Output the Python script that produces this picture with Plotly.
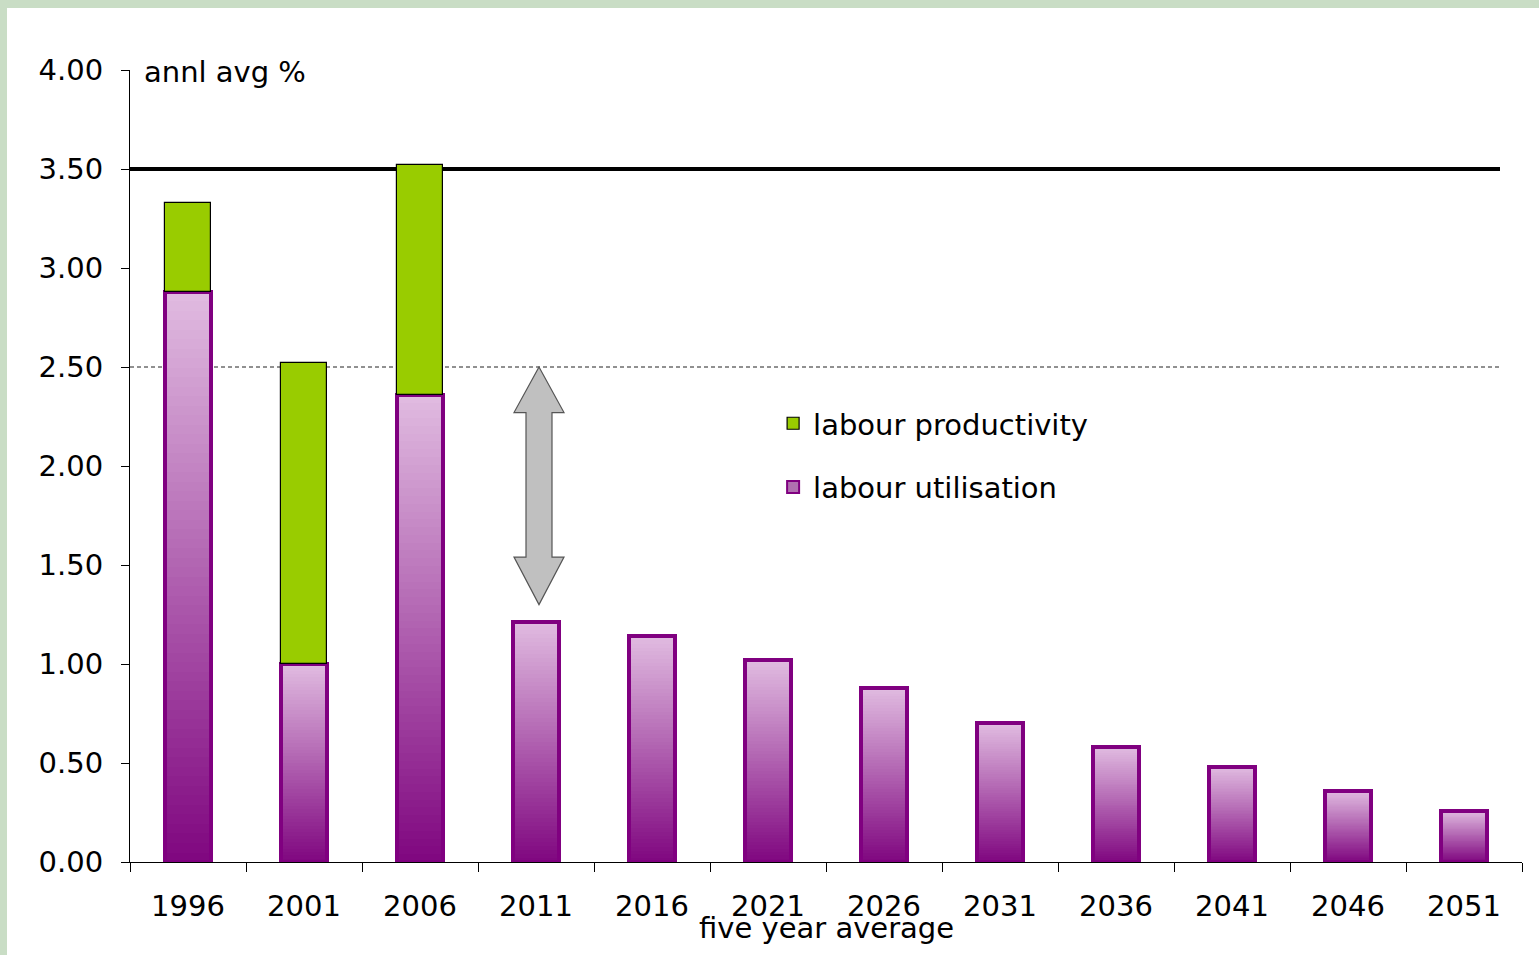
import plotly.graph_objects as go

years = ["1996", "2001", "2006", "2011", "2016", "2021", "2026", "2031", "2036", "2041", "2046", "2051"]
utilisation = [2.88, 1.00, 2.36, 1.21, 1.14, 1.02, 0.88, 0.70, 0.58, 0.48, 0.36, 0.26]
total = [3.33, 2.52, 3.52, None, None, None, None, None, None, None, None, None]
productivity = [t - u if t is not None else None for t, u in zip(total, utilisation)]

ref_solid = 3.5
ref_dashed = 2.5

FONT = "DejaVu Sans"
FS = 29
BAR_W = 0.40
N_GRAD = 60
DARK = (128, 8, 128)
LIGHT = (224, 186, 224)
GREEN = "#99cc00"
PURPLE = "#800080"

fig = go.Figure()

# gradient fill for utilisation bars (tallest/lightest first, shorter/darker on top)
for k in range(N_GRAD):
    frac = (N_GRAD - k) / N_GRAD
    t = k / (N_GRAD - 1)
    c = tuple(int(round(LIGHT[i] + (DARK[i] - LIGHT[i]) * t)) for i in range(3))
    fig.add_trace(go.Bar(
        x=years, y=[u * frac for u in utilisation], base=0, width=BAR_W,
        marker=dict(color="rgb(%d,%d,%d)" % c, line=dict(width=0)),
        showlegend=False, hoverinfo="skip",
    ))

# outline of utilisation bars
fig.add_trace(go.Bar(
    x=years, y=utilisation, base=0, width=BAR_W,
    marker=dict(color="rgba(0,0,0,0)", line=dict(color=PURPLE, width=4)),
    showlegend=False, hoverinfo="skip",
))

# productivity bars stacked on top
fig.add_trace(go.Bar(
    x=years, y=productivity, base=utilisation, width=BAR_W,
    marker=dict(color=GREEN, line=dict(color="#000000", width=1.2)),
    name="labour productivity", legendrank=1, legendgroup="prod",
))

# legend entry for utilisation
fig.add_trace(go.Bar(
    x=[None], y=[None], width=BAR_W,
    marker=dict(color="#b070b0", line=dict(color=PURPLE, width=2)),
    name="labour utilisation", legendrank=2, legendgroup="util",
))

x_end = (1500 - 130) / 1392
shapes = [
    dict(type="rect", xref="paper", yref="paper", x0=-130 / 1392 + 7 / 1392, x1=1.02,
         y0=-0.2, y1=1 + 62 / 792, fillcolor="white", line=dict(width=0), layer="below"),
    dict(type="line", xref="paper", yref="y", x0=0, x1=x_end, y0=ref_solid, y1=ref_solid,
         line=dict(color="black", width=4), layer="below"),
    dict(type="line", xref="paper", yref="y", x0=0, x1=x_end, y0=ref_dashed, y1=ref_dashed,
         line=dict(color="#222222", width=1, dash="4px,3px"), layer="below"),
]

# double-headed gray arrow (decoration)
ax_c = (539 - 130) / 1392
shaft = 13 / 1392
head = 25 / 1392
tip_top, head_top, head_bot, tip_bot = 2.5, 2.27, 1.54, 1.30
path = (f"M {ax_c},{tip_top} L {ax_c + head},{head_top} L {ax_c + shaft},{head_top} "
        f"L {ax_c + shaft},{head_bot} L {ax_c + head},{head_bot} L {ax_c},{tip_bot} "
        f"L {ax_c - head},{head_bot} L {ax_c - shaft},{head_bot} L {ax_c - shaft},{head_top} "
        f"L {ax_c - head},{head_top} Z")
shapes.append(dict(type="path", xref="paper", yref="y", path=path,
                   fillcolor="#c0c0c0", line=dict(color="#555555", width=1.2)))

fig.update_layout(
    width=1539, height=955,
    margin=dict(l=130, r=17, t=70, b=93),
    paper_bgcolor="#c9ddc5",
    plot_bgcolor="white",
    barmode="overlay",
    bargap=0,
    font=dict(family=FONT, size=FS, color="black"),
    shapes=shapes,
    showlegend=True,
    legend=dict(x=0.462, y=0.586, xanchor="left", yanchor="top",
                bgcolor="rgba(0,0,0,0)", font=dict(size=FS), tracegroupgap=23,
                traceorder="grouped"),
    xaxis=dict(type="category", showline=True, linecolor="black", linewidth=1,
               ticks="outside", ticklen=9, tickcolor="black", tickson="boundaries",
               showgrid=False, range=[-0.5, 11.5], ticklabelstandoff=18),
    yaxis=dict(range=[0, 4], dtick=0.5, tickformat=".2f", showline=True,
               linecolor="black", linewidth=1, ticks="outside", ticklen=8,
               tickcolor="black", showgrid=False, zeroline=False, ticklabelstandoff=12),
    annotations=[
        dict(text="annl avg %", xref="paper", yref="y", x=12 / 1392, y=3.99,
             xanchor="left", yanchor="middle", showarrow=False, font=dict(size=FS)),
        dict(text="five year average", xref="paper", yref="paper", x=0.5, y=-66 / 792,
             xanchor="center", yanchor="middle", showarrow=False, font=dict(size=FS)),
    ],
)

fig.write_html("out.html")
